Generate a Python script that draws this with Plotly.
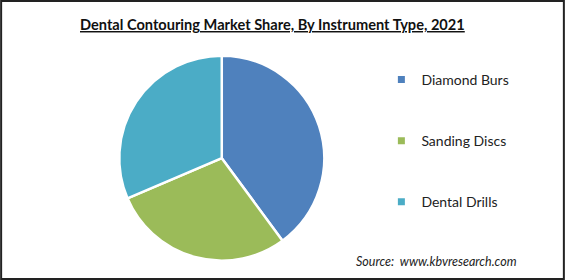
import plotly.graph_objects as go

categories = ["Diamond Burs", "Sanding Discs", "Dental Drills"]
shares = [39.9, 28.7, 31.4]
colors = ["#4F81BD", "#9BBB59", "#4BACC6"]
title_text = "Dental Contouring Market Share, By Instrument Type, 2021"
source_text = "Source:  www.kbvresearch.com"

W, H = 565, 280

fig = go.Figure()
fig.add_trace(go.Pie(
    labels=categories, values=shares, sort=False, direction="clockwise",
    rotation=0, textinfo="none", hoverinfo="label+percent",
    marker=dict(colors=colors, line=dict(color="white", width=2.5)),
    domain=dict(x=[0.211, 0.574], y=[0.069, 0.801]),
    showlegend=False,
))
# legend entries (one per category, grouped for spacing)
for name, col in zip(categories, colors):
    fig.add_trace(go.Scatter(
        x=[None], y=[None], mode="markers", name=name, legendgroup=name,
        marker=dict(symbol="square", size=7, color=col),
    ))

fig.update_layout(
    width=W, height=H, margin=dict(l=0, r=0, t=0, b=0),
    paper_bgcolor="white", plot_bgcolor="white",
    xaxis=dict(visible=False), yaxis=dict(visible=False),
    legend=dict(x=0.675, y=0.772, xanchor="left", yanchor="top",
                font=dict(family="Lato", size=14, color="#222"),
                tracegroupgap=40, itemsizing="trace",
                bgcolor="rgba(0,0,0,0)"),
    annotations=[
        dict(text="<b><u>" + title_text + "</u></b>", x=0.483, y=1 - 24 / H,
             xref="paper", yref="paper", showarrow=False,
             font=dict(family="Lato", size=14.6, color="#111"),
             xanchor="center", yanchor="middle"),
        dict(text="<i>" + source_text + "</i>", x=354 / W, y=1 - 261 / H,
             xref="paper", yref="paper", showarrow=False,
             font=dict(family="Lato", size=12.5, color="#222"),
             xanchor="left", yanchor="middle"),
    ],
    shapes=[dict(type="rect", xref="paper", yref="paper", x0=0.002, x1=0.998,
                 y0=0.004, y1=0.996, line=dict(color="#222", width=2))],
)
fig.write_html("out.html")
